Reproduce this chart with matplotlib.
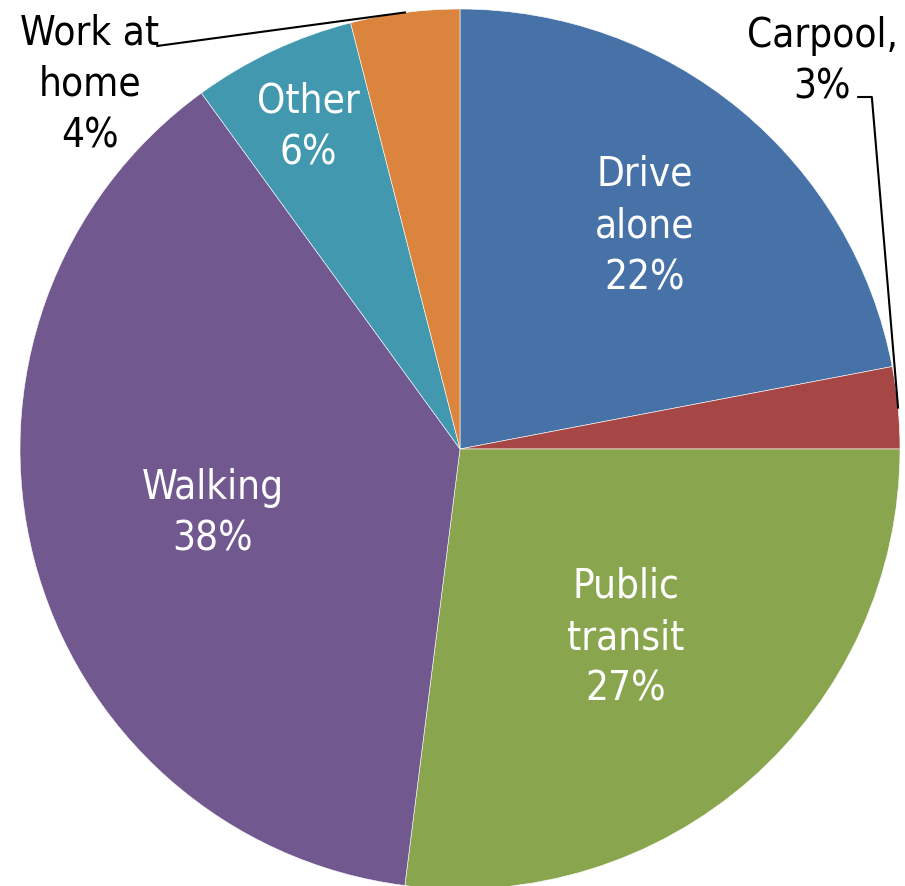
import numpy as np
import matplotlib.pyplot as plt

# Commute mode share
modes = ['Drive\nalone', 'Carpool,', 'Public\ntransit', 'Walking', 'Other', 'Work at\nhome']
shares = [22, 3, 27, 38, 6, 4]
colors = ['#4672A7', '#A64745', '#89A54E', '#71588F', '#4198AF', '#DB843D']

plt.rcParams['font.family'] = ['DejaVu Sans']
plt.rcParams['font.stretch'] = 'condensed'
FS = 29
LS = 1.38

fig = plt.figure(figsize=(9.05, 8.87), dpi=100)
ax = fig.add_axes([0, 0, 1, 1])

R = 440
wedges, _ = ax.pie(shares, colors=colors, startangle=90, counterclock=False,
                   radius=1, wedgeprops=dict(edgecolor='white', linewidth=0.4))

ax.set_xlim(-460 / R, (905 - 460) / R)
ax.set_ylim(-(887 - 450) / R, 450 / R)
ax.set_aspect('equal')
ax.axis('off')

# inside labels: distance from centre as fraction of radius
inside = {0: 0.66, 2: 0.57, 3: 0.58, 4: 0.81}
for i, r in inside.items():
    w = wedges[i]
    ang = np.deg2rad((w.theta1 + w.theta2) / 2)
    ax.text(r * np.cos(ang), r * np.sin(ang), f"{modes[i]}\n{shares[i]}%",
            ha='center', va='center', color='white', fontsize=FS,
            fontstretch='condensed', linespacing=LS)

# outside labels with leader lines
w = wedges[5]
ang = np.deg2rad((w.theta1 + w.theta2) / 2)
ax.text(-0.841, 0.83, f"{modes[5]}\n{shares[5]}%", ha='center', va='center',
        color='black', fontsize=FS, fontstretch='condensed', linespacing=LS)
ax.plot([-0.688, np.cos(ang)], [0.916, np.sin(ang)], color='black', lw=1.5)

w = wedges[1]
ang = np.deg2rad((w.theta1 + w.theta2) / 2)
ax.text(0.823, 0.882, f"{modes[1]}\n{shares[1]}%", ha='center', va='center',
        color='black', fontsize=FS, fontstretch='condensed', linespacing=LS)
ax.plot([0.905, 0.936, np.cos(ang)], [0.8, 0.8, np.sin(ang)], color='black', lw=1.5)

plt.savefig("out.png", dpi=100)
